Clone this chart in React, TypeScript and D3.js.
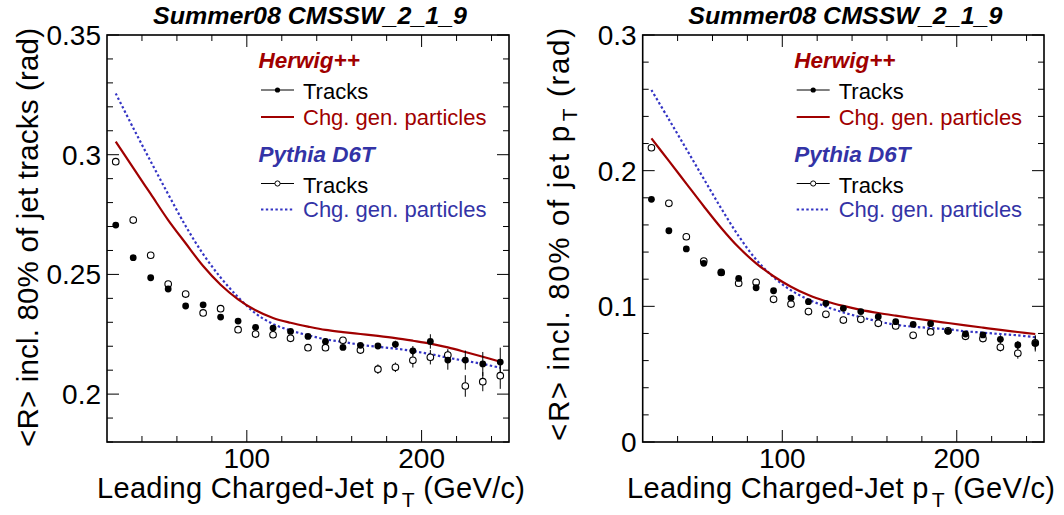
import React from "react";
import * as d3 from "d3";

// ---------- data ----------
const PT = [25, 35, 45, 55, 65, 75, 85, 95, 105, 115, 125, 135, 145, 155, 165, 175, 185, 195, 205, 215, 225, 235, 245];

// Left panel: <R> incl. 80% of jet tracks
const L_HERWIG_TRK = [0.2706, 0.257, 0.2486, 0.2439, 0.2368, 0.2373, 0.2322, 0.2305, 0.2279, 0.2276, 0.2262, 0.2241, 0.222, 0.2195, 0.2204, 0.2201, 0.2208, 0.2181, 0.222, 0.2142, 0.2142, 0.2126, 0.2134];
const L_HERWIG_ERR = [0, 0, 0, 0, 0, 0, 0, 0, 0, 0, 0, 0, 0.0008, 0.001, 0.001, 0.0012, 0.0015, 0.002, 0.003, 0.004, 0.004, 0.005, 0.006];
const L_PYTHIA_TRK = [0.2971, 0.2727, 0.258, 0.246, 0.2418, 0.2339, 0.2357, 0.2269, 0.2251, 0.2248, 0.2233, 0.2194, 0.2194, 0.2225, 0.2184, 0.2104, 0.2112, 0.2141, 0.2154, 0.2163, 0.2034, 0.2052, 0.2077];
const L_PYTHIA_ERR = [0, 0, 0, 0, 0, 0, 0, 0, 0, 0, 0, 0.0008, 0.001, 0.001, 0.0015, 0.002, 0.002, 0.003, 0.003, 0.0025, 0.0045, 0.004, 0.0055];
const L_HERWIG_GEN = [0.3055, 0.2945, 0.2836, 0.2727, 0.263, 0.2535, 0.2457, 0.2396, 0.235, 0.2318, 0.2298, 0.2282, 0.2268, 0.2259, 0.2251, 0.2243, 0.2234, 0.2223, 0.2211, 0.2195, 0.2176, 0.2156, 0.2135];
const L_PYTHIA_GEN = [0.3256, 0.3112, 0.2972, 0.2835, 0.2702, 0.2585, 0.2487, 0.2405, 0.2337, 0.2293, 0.2266, 0.2246, 0.2229, 0.2218, 0.2206, 0.2198, 0.219, 0.218, 0.2167, 0.2152, 0.2139, 0.2126, 0.211];

// Right panel: <R> incl. 80% of jet pT
const R_HERWIG_TRK = [0.1789, 0.1557, 0.1423, 0.1317, 0.1248, 0.1206, 0.1137, 0.1115, 0.1061, 0.1034, 0.1022, 0.0985, 0.0961, 0.0924, 0.0887, 0.0867, 0.0872, 0.0816, 0.0796, 0.0789, 0.0757, 0.0715, 0.0727];
const R_HERWIG_ERR = [0, 0, 0, 0, 0, 0, 0, 0, 0, 0, 0, 0, 0, 0.001, 0.001, 0.001, 0.0012, 0.0015, 0.002, 0.002, 0.003, 0.003, 0.006];
const R_PYTHIA_TRK = [0.2169, 0.1759, 0.1513, 0.1334, 0.125, 0.117, 0.1177, 0.1052, 0.1017, 0.0961, 0.0941, 0.0899, 0.0904, 0.0875, 0.0855, 0.0786, 0.0811, 0.082, 0.0779, 0.0762, 0.0698, 0.0654, 0.073];
const R_PYTHIA_ERR = [0, 0, 0, 0, 0, 0, 0, 0, 0, 0, 0, 0, 0, 0.001, 0.001, 0.0015, 0.0015, 0.002, 0.002, 0.0025, 0.003, 0.004, 0.005];
const R_HERWIG_GEN = [0.2238, 0.2072, 0.1905, 0.1738, 0.1578, 0.1435, 0.1317, 0.1222, 0.1145, 0.1083, 0.1038, 0.1003, 0.0974, 0.0951, 0.0931, 0.0912, 0.0894, 0.0877, 0.086, 0.0843, 0.0826, 0.0811, 0.0796];
const R_PYTHIA_GEN = [0.2595, 0.2378, 0.216, 0.194, 0.1722, 0.1518, 0.1345, 0.1215, 0.1118, 0.105, 0.0998, 0.0955, 0.092, 0.0889, 0.0864, 0.085, 0.084, 0.0831, 0.0816, 0.0806, 0.0796, 0.0786, 0.0772];

const X_DOMAIN = [20, 250];
const X_MAJOR = [100, 200];
const X_LABELS = ["100", "200"];
const X_MINOR = [40, 60, 80, 120, 140, 160, 180, 220, 240];

const L_Y_DOMAIN = [0.18, 0.35];
const L_Y_MAJOR = [0.2, 0.25, 0.3, 0.35];
const L_Y_LABELS = ["0.2", "0.25", "0.3", "0.35"];
const R_Y_DOMAIN = [0, 0.3];
const R_Y_MAJOR = [0, 0.1, 0.2, 0.3];
const R_Y_LABELS = ["0", "0.1", "0.2", "0.3"];

const TITLE = "Summer08 CMSSW_2_1_9";
const RED = "#a00000";
const BLUE_TXT = "#3333a6";
const BLUE_LINE = "#3434c4";
const FONT = "'Liberation Sans', Arial, Helvetica, sans-serif";

type PanelProps = {
  x0: number; x1: number; y0: number; y1: number;
  yDomain: number[]; yMajor: number[]; yLabels: string[]; yMinorStep: number;
  herTrk: number[]; herErr: number[]; pyTrk: number[]; pyErr: number[];
  herGen: number[]; pyGen: number[];
  yTitle: React.ReactNode; yTitleX: number; yTitleLen: number; xTitleEnd: number;
};

function Panel(p: PanelProps) {
  const x = d3.scaleLinear().domain(X_DOMAIN).range([p.x0, p.x1]);
  const y = d3.scaleLinear().domain(p.yDomain).range([p.y1, p.y0]);
  const yMinor = d3.range(p.yDomain[0], p.yDomain[1] + 1e-9, p.yMinorStep).filter(
    (v) => !p.yMajor.some((m) => Math.abs(m - v) < 1e-9)
  );
  const line = d3.line<number>().x((_, i) => x(PT[i])).y((v) => y(v)).curve(d3.curveCatmullRom.alpha(0.5));
  const clipId = `clip${Math.round(p.x0)}`;
  const lx = p.x0 + 154; // legend line start
  const tx = p.x0 + 196; // legend text
  const hx = p.x0 + 151.5;
  const mid = lx + 16.5;
  const cx = (p.x0 + p.x1) / 2;
  return (
    <g>
      <defs>
        <clipPath id={clipId}>
          <rect x={p.x0} y={p.y0} width={p.x1 - p.x0} height={p.y1 - p.y0} />
        </clipPath>
      </defs>
      {/* title */}
      <text x={cx + 2} y={24} textAnchor="middle" fontFamily={FONT} fontSize={23} fontWeight="bold" fontStyle="italic" textLength={314} lengthAdjust="spacingAndGlyphs">{TITLE}</text>
      {/* ticks */}
      <g stroke="#000" strokeWidth={1}>
        {X_MAJOR.map((v) => (
          <g key={"xm" + v}>
            <line x1={x(v)} x2={x(v)} y1={p.y1} y2={p.y1 - 12} />
            <line x1={x(v)} x2={x(v)} y1={p.y0} y2={p.y0 + 12} />
          </g>
        ))}
        {X_MINOR.map((v) => (
          <g key={"xn" + v}>
            <line x1={x(v)} x2={x(v)} y1={p.y1} y2={p.y1 - 6} />
            <line x1={x(v)} x2={x(v)} y1={p.y0} y2={p.y0 + 6} />
          </g>
        ))}
        {p.yMajor.map((v) => (
          <g key={"ym" + v}>
            <line x1={p.x0} x2={p.x0 + 12} y1={y(v)} y2={y(v)} />
            <line x1={p.x1} x2={p.x1 - 12} y1={y(v)} y2={y(v)} />
          </g>
        ))}
        {yMinor.map((v) => (
          <g key={"yn" + v}>
            <line x1={p.x0} x2={p.x0 + 6} y1={y(v)} y2={y(v)} />
            <line x1={p.x1} x2={p.x1 - 6} y1={y(v)} y2={y(v)} />
          </g>
        ))}
      </g>
      {/* tick labels */}
      {X_MAJOR.map((v, i) => (
        <text key={"xl" + v} x={x(v)} y={468} textAnchor="middle" fontFamily={FONT} fontSize={28}>{X_LABELS[i]}</text>
      ))}
      {p.yMajor.map((v, i) => (
        <text key={"yl" + v} x={p.x0 - 6} y={y(v)} dy="0.36em" textAnchor="end" fontFamily={FONT} fontSize={28}>{p.yLabels[i]}</text>
      ))}
      {/* axis titles */}
      <text x={p.xTitleEnd} y={498} textAnchor="end" fontFamily={FONT} fontSize={29} textLength={428}>
        Leading Charged-Jet p<tspan dx={3} dy={9} fontSize={21}>T</tspan><tspan dy={-9}> (GeV/c)</tspan>
      </text>
      <text transform={`translate(${p.yTitleX},28) rotate(-90)`} textAnchor="end" fontFamily={FONT} fontSize={29.5} textLength={p.yTitleLen}>
        {p.yTitle}
      </text>
      {/* curves */}
      <g clipPath={`url(#${clipId})`}>
        <path d={line(p.pyGen) || ""} fill="none" stroke={BLUE_LINE} strokeWidth={2.2} strokeDasharray="2.4,2.4" />
        <path d={line(p.herGen) || ""} fill="none" stroke={RED} strokeWidth={2.2} />
      </g>
      {/* error bars */}
      <g stroke="#000" strokeWidth={1}>
        {PT.map((pt, i) => p.herErr[i] > 0 ? (
          <line key={"he" + i} x1={x(pt)} x2={x(pt)} y1={y(p.herTrk[i] - p.herErr[i])} y2={y(p.herTrk[i] + p.herErr[i])} />
        ) : null)}
        {PT.map((pt, i) => p.pyErr[i] > 0 ? (
          <line key={"pe" + i} x1={x(pt)} x2={x(pt)} y1={y(p.pyTrk[i] - p.pyErr[i])} y2={y(p.pyTrk[i] + p.pyErr[i])} />
        ) : null)}
      </g>
      {/* points */}
      {PT.map((pt, i) => (
        <circle key={"po" + i} cx={x(pt)} cy={y(p.pyTrk[i])} r={3.3} fill="#fff" stroke="#000" strokeWidth={1.1} />
      ))}
      {PT.map((pt, i) => (
        <circle key={"hc" + i} cx={x(pt)} cy={y(p.herTrk[i])} r={3.4} fill="#000" />
      ))}
      {/* frame */}
      <rect x={p.x0} y={p.y0} width={p.x1 - p.x0} height={p.y1 - p.y0} fill="none" stroke="#000" strokeWidth={1.6} />
      {/* legend */}
      <g fontFamily={FONT}>
        <text x={hx} y={68} fontSize={22.5} fontWeight="bold" fontStyle="italic" fill={RED}>Herwig++</text>
        <line x1={lx} x2={lx + 33} y1={90} y2={90} stroke="#000" strokeWidth={1} />
        <circle cx={mid} cy={90} r={2.6} fill="#000" />
        <text x={tx} y={99} fontSize={22} fill="#000">Tracks</text>
        <line x1={lx} x2={lx + 33} y1={117} y2={117} stroke={RED} strokeWidth={2.2} />
        <text x={tx} y={125} fontSize={22} fill={RED}>Chg. gen. particles</text>
        <text x={hx} y={161.5} fontSize={22.5} fontWeight="bold" fontStyle="italic" fill={BLUE_TXT}>Pythia D6T</text>
        <line x1={lx} x2={lx + 33} y1={183.5} y2={183.5} stroke="#000" strokeWidth={1} />
        <circle cx={mid} cy={183.5} r={2.6} fill="#fff" stroke="#000" strokeWidth={1} />
        <text x={tx} y={192.5} fontSize={22} fill="#000">Tracks</text>
        <line x1={lx} x2={lx + 33} y1={209.5} y2={209.5} stroke={BLUE_LINE} strokeWidth={2.2} strokeDasharray="2.4,2.4" />
        <text x={tx} y={217} fontSize={22} fill={BLUE_TXT}>Chg. gen. particles</text>
      </g>
    </g>
  );
}

export default function App() {
  return (
    <svg width={1064} height={515} viewBox="0 0 1064 515" style={{ position: "absolute", left: 0, top: 0, background: "#fff" }}>
      <rect x={0} y={0} width={1064} height={515} fill="#fff" />
      <Panel
        x0={107} x1={509} y0={35} y1={442}
        yDomain={L_Y_DOMAIN} yMajor={L_Y_MAJOR} yLabels={L_Y_LABELS} yMinorStep={0.01}
        herTrk={L_HERWIG_TRK} herErr={L_HERWIG_ERR} pyTrk={L_PYTHIA_TRK} pyErr={L_PYTHIA_ERR}
        herGen={L_HERWIG_GEN} pyGen={L_PYTHIA_GEN}
        yTitle={<>{"<R> incl. 80% of jet tracks (rad)"}</>}
        yTitleX={38} yTitleLen={419} xTitleEnd={525}
      />
      <Panel
        x0={642.7} x1={1044} y0={35} y1={442}
        yDomain={R_Y_DOMAIN} yMajor={R_Y_MAJOR} yLabels={R_Y_LABELS} yMinorStep={0.02}
        herTrk={R_HERWIG_TRK} herErr={R_HERWIG_ERR} pyTrk={R_PYTHIA_TRK} pyErr={R_PYTHIA_ERR}
        herGen={R_HERWIG_GEN} pyGen={R_PYTHIA_GEN}
        yTitle={<>{"<R> incl. 80% of jet p"}<tspan dx={3} dy={8} fontSize={21}>T</tspan><tspan dy={-8}>{" (rad)"}</tspan></>}
        yTitleX={569} yTitleLen={413} xTitleEnd={1055}
      />
    </svg>
  );
}
